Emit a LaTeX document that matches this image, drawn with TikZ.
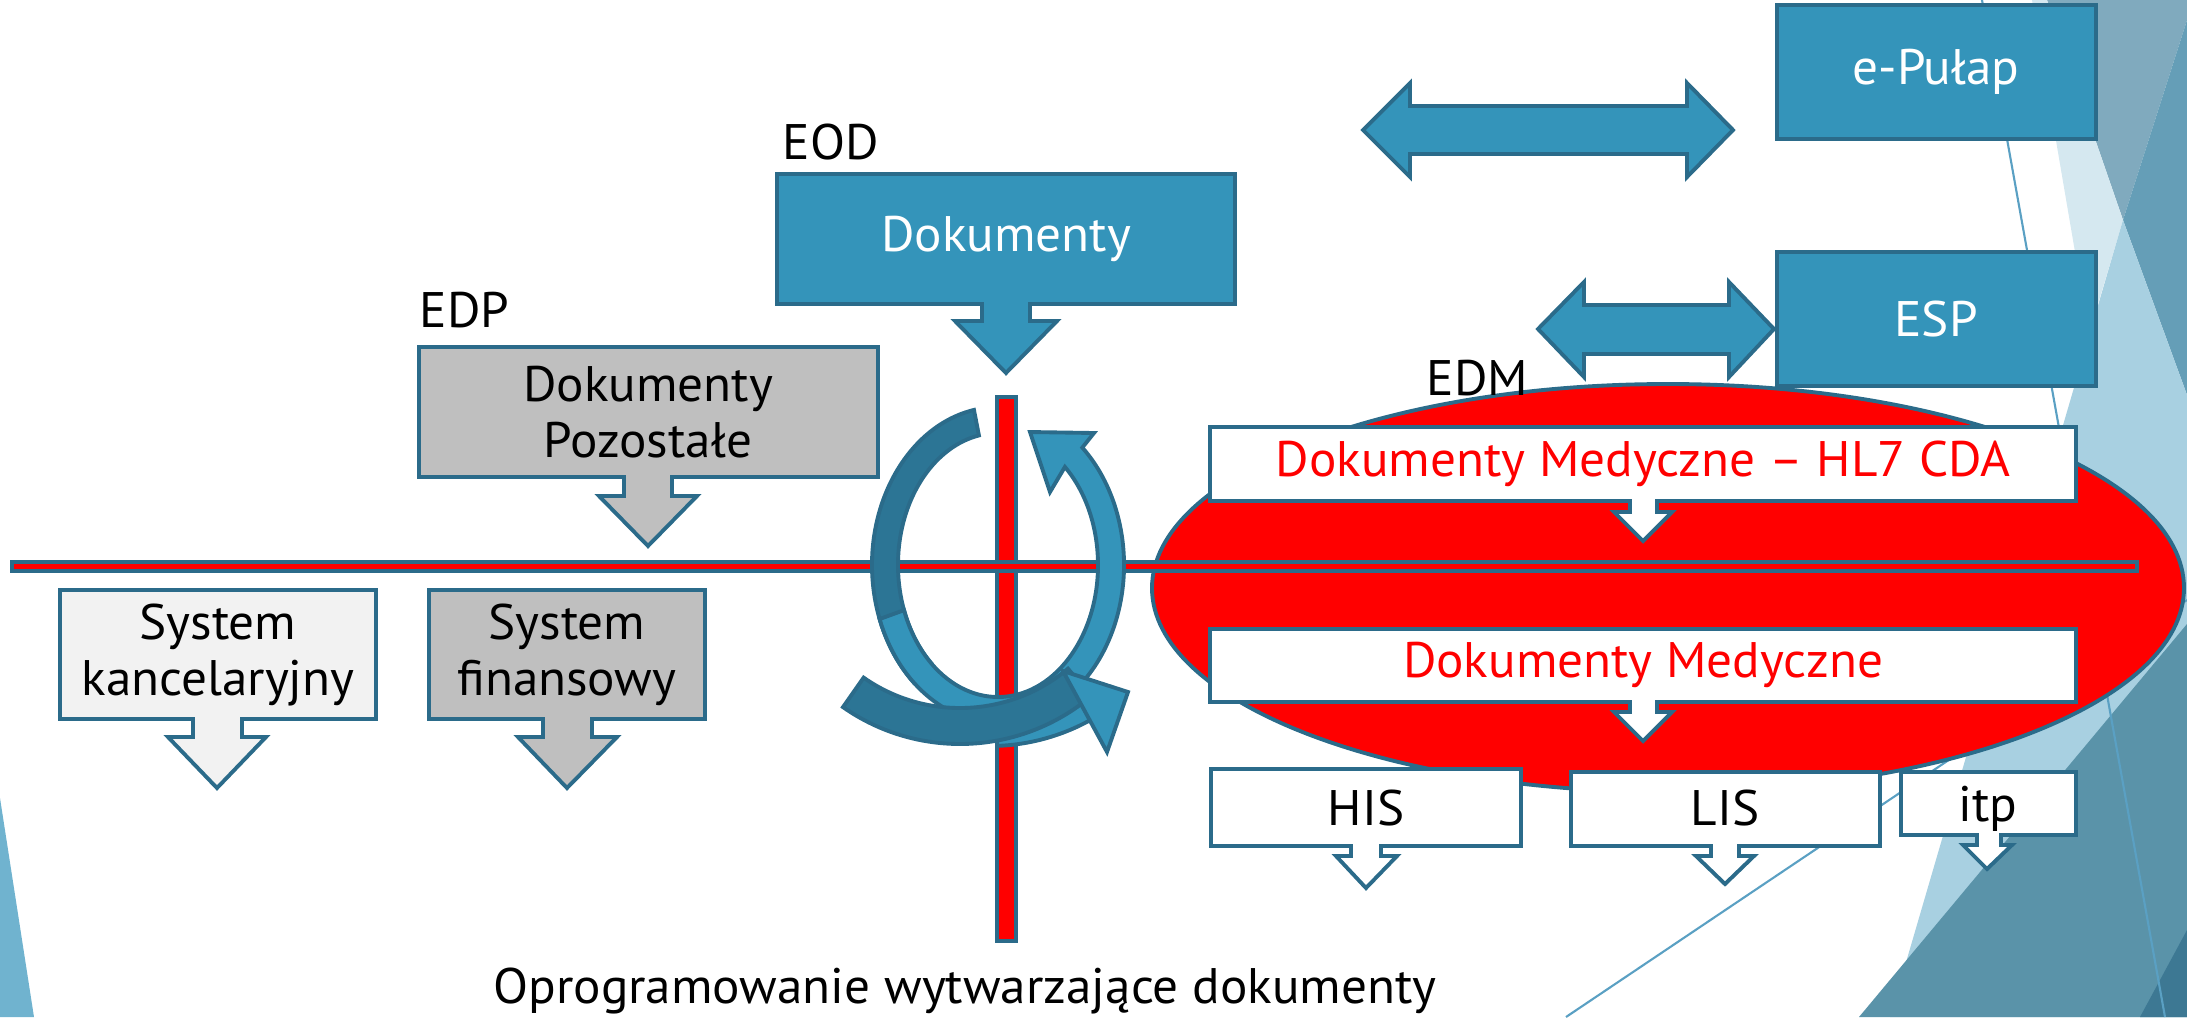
\documentclass[tikz,border=0pt]{standalone}
\usepackage{fontspec}
\setmainfont[FakeStretch=1.025]{PT Sans}
\usepackage{tikz}

\definecolor{morski}{HTML}{3494BA}
\definecolor{ciemny}{HTML}{2C7595}
\definecolor{obwod}{HTML}{2B6B8A}
\definecolor{szary}{HTML}{BFBFBF}
\definecolor{jasny}{HTML}{F2F2F2}

\begin{document}
\begin{tikzpicture}[x=0.01cm, y=-0.01cm,
  obrys/.style={draw=obwod, line width=1.1pt},
  tekst/.style={font=\fontsize{14.2}{16}\selectfont, inner sep=0pt},
  btekst/.style={tekst, text=white},
  ctekst/.style={tekst, text=red}]

\useasboundingbox (0,0) rectangle (2187,1017);

% tlo
\fill[color={rgb,255:red,128;green,170;blue,190}] (2047,0) -- (2187,0) -- (2187,20) -- (2123,220) -- cycle;
\fill[color={rgb,255:red,101;green,158;blue,183}] (2187,20) -- (2123,220) -- (2187,395) -- cycle;
\fill[color={rgb,255:red,213;green,232;blue,240}] (2032,0) -- (2047,0) -- (2123,220) -- (2089,334) -- cycle;
\fill[color={rgb,255:red,168;green,208;blue,225}] (2123,220) -- (2187,395) -- (2187,1017) -- (1890,1017) -- cycle;
\fill[color={rgb,255:red,90;green,147;blue,169}] (2187,624) -- (2187,1017) -- (1859,1017) -- cycle;
\fill[color={rgb,255:red,61;green,120;blue,147}] (2187,930) -- (2187,1017) -- (2140,1017) -- cycle;
\fill[color={rgb,255:red,112;green,179;blue,207}] (0,798) -- (34,1017) -- (0,1017) -- cycle;
\draw[color={rgb,255:red,90;green,160;blue,195}, line width=0.6pt] (1982,0) -- (2165,1017);
\draw[color={rgb,255:red,90;green,160;blue,195}, line width=0.6pt] (1566,1017) -- (2187,600);

% EDM
\filldraw[obrys, fill=red] (1668,588) ellipse [x radius=516, y radius=204];

\filldraw[obrys, fill=red] (997,397) rectangle (1016,941);
\filldraw[obrys, fill=red] (12,562) rectangle (2137,571);

% strzalki w kolo
\filldraw[obrys, fill=ciemny] ([shift={(998,565)}]-101:126 and 158) arc[start angle=-101, end angle=-228, x radius=126, y radius=158]
  -- ([shift={(998,565)}]-228:100 and 132) arc[start angle=-228, end angle=-101, x radius=100, y radius=132] -- cycle;
\filldraw[obrys, fill=morski] ([shift={(998,565)}]-200:126 and 158) arc[start angle=-200, end angle=-408, x radius=126, y radius=158]
  -- (1094,433) -- (1030,432) -- (1050,492)
  -- ([shift={(998,565)}]-408:100 and 132) arc[start angle=-408, end angle=-200, x radius=100, y radius=132] -- cycle;
\filldraw[obrys, fill=morski] ([shift={(990,539)}]88:207) arc[start angle=88, end angle=61, radius=207]
  -- ([shift={(990,539)}]61:175) arc[start angle=61, end angle=88, radius=175] -- cycle;
\filldraw[obrys, fill=ciemny] ([shift={(960,540)}]125:204) arc[start angle=125, end angle=50, radius=204]
  -- ([shift={(960,540)}]50:168) arc[start angle=50, end angle=125, radius=168] -- cycle;
\filldraw[obrys, fill=morski] (1063,671) -- (1128,692) -- (1107,752) -- cycle;

% bloki ze strzalka w dol
\filldraw[obrys, fill=morski] (777,174) -- (1235,174) -- (1235,304) -- (1030,304) -- (1030,321) -- (1057,321) -- (1006,373)
  -- (955,321) -- (982,321) -- (982,304) -- (777,304) -- cycle;
\filldraw[obrys, fill=szary] (419,347) -- (878,347) -- (878,477) -- (672,477) -- (672,496) -- (697,496) -- (648,546)
  -- (599,496) -- (624,496) -- (624,477) -- (419,477) -- cycle;
\filldraw[obrys, fill=jasny] (60,590) -- (376,590) -- (376,719) -- (242,719) -- (242,737) -- (266,737) -- (217,788)
  -- (168,737) -- (193,737) -- (193,719) -- (60,719) -- cycle;
\filldraw[obrys, fill=szary] (429,590) -- (705,590) -- (705,719) -- (592,719) -- (592,737) -- (617,737) -- (567,788)
  -- (518,737) -- (543,737) -- (543,719) -- (429,719) -- cycle;
\filldraw[obrys, fill=white] (1210,427) -- (2076,427) -- (2076,501) -- (1657,501) -- (1657,512) -- (1672,512) -- (1643,541)
  -- (1614,512) -- (1630,512) -- (1630,501) -- (1210,501) -- cycle;
\filldraw[obrys, fill=white] (1210,629) -- (2076,629) -- (2076,702) -- (1657,702) -- (1657,712) -- (1672,712) -- (1643,741)
  -- (1614,712) -- (1630,712) -- (1630,702) -- (1210,702) -- cycle;
\filldraw[obrys, fill=white] (1211,769) -- (1521,769) -- (1521,846) -- (1381,846) -- (1381,856) -- (1397,856) -- (1366,888)
  -- (1336,856) -- (1351,856) -- (1351,846) -- (1211,846) -- cycle;
\filldraw[obrys, fill=white] (1571,772) -- (1880,772) -- (1880,846) -- (1739,846) -- (1739,856) -- (1754,856) -- (1725,884)
  -- (1696,856) -- (1711,856) -- (1711,846) -- (1571,846) -- cycle;
\filldraw[obrys, fill=white] (1901,772) -- (2076,772) -- (2076,835) -- (2001,835) -- (2001,845) -- (2012,845) -- (1987,869)
  -- (1963,845) -- (1977,845) -- (1977,835) -- (1901,835) -- cycle;

\filldraw[obrys, fill=morski] (1777,5) rectangle (2096,139);
\filldraw[obrys, fill=morski] (1777,252) rectangle (2096,386);

% strzalki w obie strony
\filldraw[obrys, fill=morski] (1363,130) -- (1410,83) -- (1410,106) -- (1687,106) -- (1687,83) -- (1733,130)
  -- (1687,177) -- (1687,154) -- (1410,154) -- (1410,177) -- cycle;
\filldraw[obrys, fill=morski] (1538,329) -- (1584,282) -- (1584,305) -- (1729,305) -- (1729,282) -- (1774,329)
  -- (1729,377) -- (1729,354) -- (1584,354) -- (1584,377) -- cycle;

\node[tekst, anchor=base west] (eod) at (782,159) {EOD};
\node[tekst, anchor=base west] (edp) at (419,327) {EDP};
\node[tekst, anchor=base west] (edm) at (1426,395) {EDM};
\node[btekst] (dok) at (1006,239) {Dokumenty};
\node[tekst, align=center] (poz) at (648,412) {Dokumenty\\Pozostałe};
\node[btekst] (epul) at (1936,72) {e-Pułap};
\node[btekst] (esp) at (1936,319) {ESP};
\node[ctekst] (hl7) at (1643,464) {Dokumenty Medyczne – HL7 CDA};
\node[ctekst] (dmed) at (1643,665) {Dokumenty Medyczne};
\node[tekst] (his) at (1366,808) {HIS};
\node[tekst] (lis) at (1725,808) {LIS};
\node[tekst, anchor=base] (itp) at (1988,821) {itp};
\node[tekst, align=center] (kanc) at (218,655) {System\\kancelaryjny};
\node[tekst, align=center] (fin) at (567,655) {System\\finansowy};
\node[tekst, anchor=base] (opis) at (965,1003) {Oprogramowanie wytwarzające dokumenty};
\end{tikzpicture}
\end{document}
